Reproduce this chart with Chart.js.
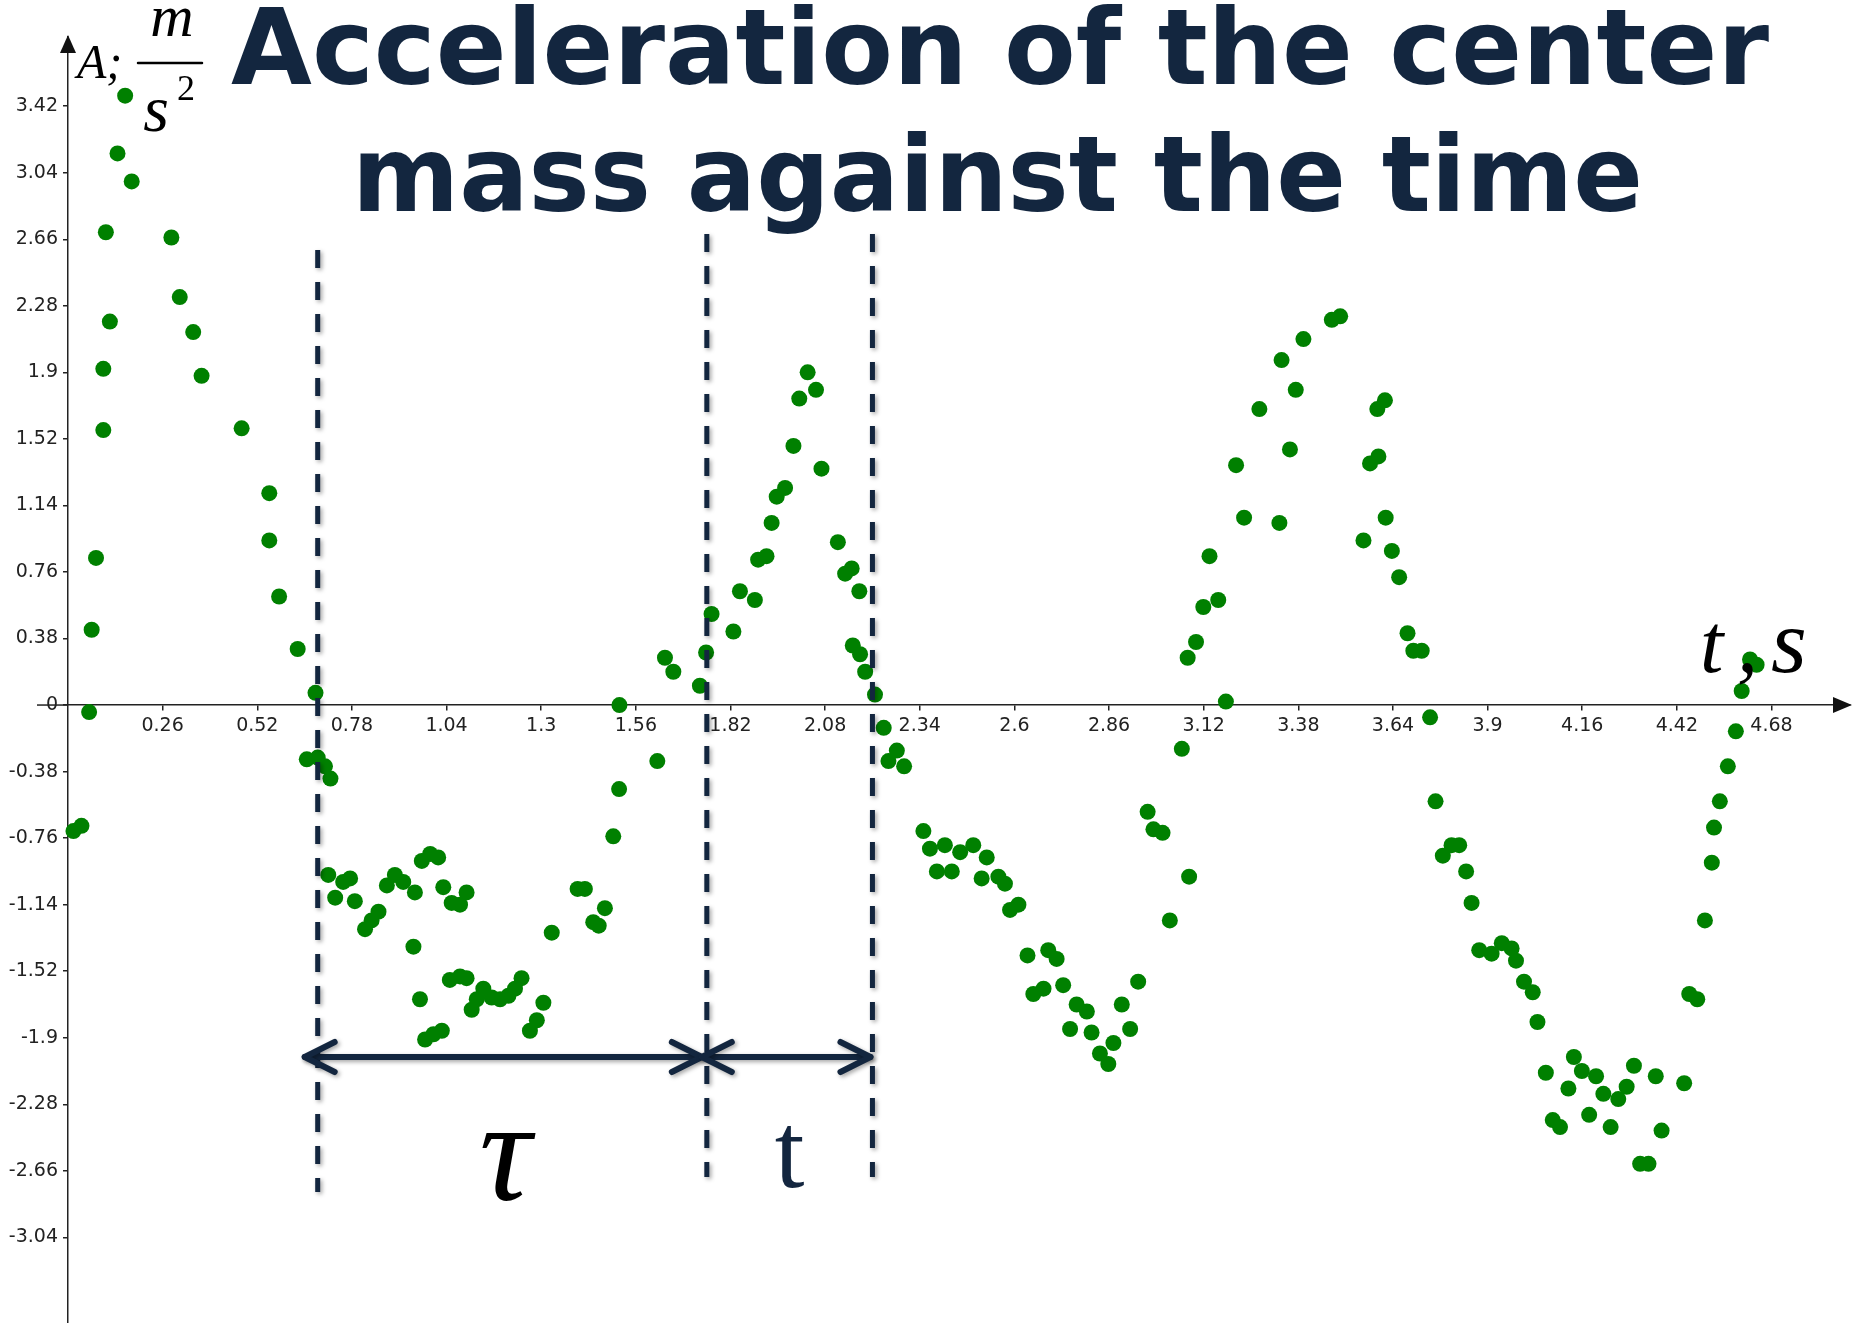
<!DOCTYPE html>
<html>
  <head>
    <meta charset="UTF-8" />
    <title>Acceleration of the center mass against the time</title>
    <script src="https://cdn.jsdelivr.net/npm/chart.js"></script>
    <style>
      body { margin: 0; padding: 0; background: #fff; }
      canvas { display: block; }
    </style>
  </head>
  <body>
    <canvas id="myChart" width="1859" height="1323"></canvas>
    <script>
      // time, s
      const timeS = [
        0.015, 0.037, 0.058, 0.065, 0.077, 0.097, 0.097, 0.104, 0.115, 0.136,
        0.157, 0.175, 0.284, 0.307, 0.344, 0.367, 0.477, 0.553, 0.553, 0.580,
        0.631, 0.656, 0.680, 0.686, 0.706, 0.715, 0.721, 0.734, 0.756, 0.775,
        0.788, 0.816, 0.834, 0.853, 0.876, 0.898, 0.921, 0.949, 0.953, 0.967,
        0.972, 0.981, 0.995, 1.004, 1.017, 1.027, 1.031, 1.049, 1.054, 1.077,
        1.077, 1.095, 1.095, 1.109, 1.123, 1.141, 1.164, 1.187, 1.210, 1.228,
        1.246, 1.269, 1.288, 1.306, 1.329, 1.400, 1.420, 1.443, 1.458, 1.475,
        1.498, 1.514, 1.515, 1.619, 1.640, 1.663, 1.736, 1.753, 1.768, 1.828,
        1.846, 1.887, 1.896, 1.919, 1.933, 1.947, 1.970, 1.993, 2.009, 2.032,
        2.055, 2.070, 2.115, 2.135, 2.153, 2.156, 2.174, 2.176, 2.190, 2.217,
        2.241, 2.254, 2.277, 2.297, 2.350, 2.368, 2.387, 2.409, 2.428, 2.451,
        2.487, 2.510, 2.524, 2.556, 2.574, 2.588, 2.611, 2.636, 2.652, 2.680,
        2.693, 2.716, 2.734, 2.753, 2.771, 2.799, 2.812, 2.835, 2.858, 2.872,
        2.895, 2.918, 2.940, 2.966, 2.982, 3.007, 3.027, 3.060, 3.076, 3.080,
        3.099, 3.119, 3.136, 3.160, 3.181, 3.209, 3.231, 3.273, 3.328, 3.334,
        3.357, 3.373, 3.394, 3.472, 3.495, 3.559, 3.577, 3.597, 3.600, 3.618,
        3.620, 3.637, 3.657, 3.680, 3.696, 3.719, 3.742, 3.757, 3.777, 3.801,
        3.822, 3.841, 3.856, 3.877, 3.911, 3.939, 3.966, 3.978, 4.000, 4.024,
        4.037, 4.060, 4.079, 4.099, 4.122, 4.137, 4.159, 4.179, 4.198, 4.218,
        4.238, 4.259, 4.282, 4.302, 4.319, 4.342, 4.362, 4.378, 4.440, 4.454,
        4.476, 4.497, 4.516, 4.522, 4.538, 4.560, 4.582, 4.598, 4.621, 4.639
      ];

      // acceleration, m/s^2
      const accel = [
        -0.72, -0.69, -0.04, 0.43, 0.84, 1.57, 1.92, 2.70, 2.19, 3.15,
        3.48, 2.99, 2.67, 2.33, 2.13, 1.88, 1.58, 1.21, 0.94, 0.62,
        0.32, -0.31, 0.07, -0.30, -0.35, -0.97, -0.42, -1.10, -1.01, -0.99,
        -1.12, -1.28, -1.23, -1.18, -1.03, -0.97, -1.01, -1.38, -1.07, -1.68,
        -0.89, -1.91, -0.85, -1.88, -0.87, -1.86, -1.04, -1.57, -1.13, -1.14,
        -1.55, -1.07, -1.56, -1.74, -1.68, -1.62, -1.67, -1.68, -1.66, -1.62,
        -1.56, -1.86, -1.80, -1.70, -1.30, -1.05, -1.05, -1.24, -1.26, -1.16,
        -0.75, -0.48, 0.00, -0.32, 0.27, 0.19, 0.11, 0.30, 0.52, 0.42,
        0.65, 0.60, 0.83, 0.85, 1.04, 1.19, 1.24, 1.48, 1.75, 1.90,
        1.80, 1.35, 0.93, 0.75, 0.78, 0.34, 0.65, 0.29, 0.19, 0.06,
        -0.13, -0.32, -0.26, -0.35, -0.72, -0.82, -0.95, -0.80, -0.95, -0.84,
        -0.80, -0.99, -0.87, -0.98, -1.02, -1.17, -1.14, -1.43, -1.65, -1.62,
        -1.40, -1.45, -1.60, -1.85, -1.71, -1.75, -1.87, -1.99, -2.05, -1.93,
        -1.71, -1.85, -1.58, -0.61, -0.71, -0.73, -1.23, -0.25, 0.27, -0.98,
        0.36, 0.56, 0.85, 0.60, 0.02, 1.37, 1.07, 1.69, 1.04, 1.97,
        1.46, 1.80, 2.09, 2.20, 2.22, 0.94, 1.38, 1.69, 1.42, 1.74,
        1.07, 0.88, 0.73, 0.41, 0.31, 0.31, -0.07, -0.55, -0.86, -0.80,
        -0.80, -0.95, -1.13, -1.40, -1.42, -1.36, -1.39, -1.46, -1.58, -1.64,
        -1.81, -2.10, -2.37, -2.41, -2.19, -2.01, -2.09, -2.34, -2.12, -2.22,
        -2.41, -2.25, -2.18, -2.06, -2.62, -2.62, -2.12, -2.43, -2.16, -1.65,
        -1.68, -1.23, -0.90, -0.70, -0.55, -0.35, -0.15, 0.08, 0.26, 0.23
      ];

      const xTicks = [0.26, 0.52, 0.78, 1.04, 1.3, 1.56, 1.82, 2.08, 2.34, 2.6, 2.86,
                      3.12, 3.38, 3.64, 3.9, 4.16, 4.42, 4.68];
      const yTicks = [3.42, 3.04, 2.66, 2.28, 1.9, 1.52, 1.14, 0.76, 0.38, 0,
                      -0.38, -0.76, -1.14, -1.52, -1.9, -2.28, -2.66, -3.04];

      // times of the dashed markers (start of tau, end of tau, end of t)
      const markerTimes = [0.686, 1.755, 2.21];

      const NAVY = '#13263f';
      const AXIS = '#222';

      const overlay = {
        id: 'overlay',
        afterDatasetsDraw(chart) {
          const ctx = chart.ctx;
          const xs = chart.scales.x;
          const ys = chart.scales.y;
          const x0 = ys.right;
          const yAxisPix = ys.getPixelForValue(0);
          const xRight = chart.chartArea.right;

          ctx.save();
          // axis arrow heads
          ctx.fillStyle = '#111';
          ctx.beginPath();
          ctx.moveTo(x0, 35);
          ctx.lineTo(x0 - 8, 53);
          ctx.lineTo(x0 + 8, 53);
          ctx.closePath();
          ctx.fill();
          ctx.beginPath();
          ctx.moveTo(xRight + 2, yAxisPix);
          ctx.lineTo(xRight - 17, yAxisPix - 8);
          ctx.lineTo(xRight - 17, yAxisPix + 8);
          ctx.closePath();
          ctx.fill();
          // stub of the x axis left of the y axis
          ctx.strokeStyle = AXIS;
          ctx.lineWidth = 1.5;
          ctx.beginPath();
          ctx.moveTo(37, yAxisPix);
          ctx.lineTo(x0, yAxisPix);
          ctx.stroke();

          // dashed markers
          const px = markerTimes.map(v => xs.getPixelForValue(v));
          const spans = [[250, 1192], [234, 1177], [234, 1177]];
          ctx.shadowColor = 'rgba(0,0,0,0.35)';
          ctx.shadowBlur = 4;
          ctx.shadowOffsetX = 2;
          ctx.shadowOffsetY = 2;
          ctx.strokeStyle = NAVY;
          ctx.lineWidth = 5;
          ctx.setLineDash([18, 14]);
          px.forEach((p, i) => {
            ctx.beginPath();
            ctx.moveTo(p, spans[i][0]);
            ctx.lineTo(p, spans[i][1]);
            ctx.stroke();
          });
          ctx.setLineDash([]);

          // double arrows
          const ay = 1057;
          const tips = [px[0] - 13, px[1] - 5, px[2] - 2];
          ctx.lineWidth = 6;
          ctx.lineCap = 'round';
          ctx.lineJoin = 'round';
          function head(x, dir) {
            ctx.beginPath();
            ctx.moveTo(x + dir * 30, ay - 15);
            ctx.lineTo(x, ay);
            ctx.lineTo(x + dir * 30, ay + 15);
            ctx.stroke();
          }
          ctx.beginPath();
          ctx.moveTo(tips[0], ay);
          ctx.lineTo(tips[2], ay);
          ctx.stroke();
          head(tips[0], 1);
          head(tips[1], -1);
          head(tips[1], 1);
          head(tips[2], -1);
          ctx.shadowColor = 'transparent';

          // tau and t labels
          ctx.textAlign = 'center';
          ctx.textBaseline = 'alphabetic';
          ctx.fillStyle = '#000';
          ctx.font = 'italic 145px "Liberation Serif"';
          ctx.fillText('\u03C4', (px[0] + px[1]) / 2 - 7, 1200);
          ctx.fillStyle = NAVY;
          ctx.font = '107px "Liberation Serif"';
          ctx.fillText('t', (px[1] + px[2]) / 2, 1187);

          // axis names
          ctx.fillStyle = '#000';
          ctx.textAlign = 'left';
          ctx.font = 'italic 84px "Liberation Serif"';
          ctx.fillText('t', 1700, 672);
          ctx.fillText(',', 1737, 672);
          ctx.font = 'italic 92px "Liberation Serif"';
          ctx.fillText('s', 1771, 672);

          ctx.font = 'italic 48px "Liberation Serif"';
          ctx.fillText('A;', 77, 78);
          ctx.textAlign = 'center';
          ctx.font = 'italic 60px "Liberation Serif"';
          ctx.fillText('m', 172, 36);
          ctx.font = 'italic 66px "Liberation Serif"';
          ctx.fillText('s', 156, 131);
          ctx.textAlign = 'left';
          ctx.font = '36px "Liberation Serif"';
          ctx.fillText('2', 177, 100);
          ctx.strokeStyle = '#000';
          ctx.lineWidth = 2.5;
          ctx.beginPath();
          ctx.moveTo(138, 63);
          ctx.lineTo(202, 63);
          ctx.stroke();

          // title, two lines stretched to the original widths
          ctx.fillStyle = NAVY;
          ctx.font = 'bold 105px "DejaVu Sans"';
          function fitText(text, left, right, base) {
            const w = ctx.measureText(text).width;
            ctx.save();
            ctx.translate(left, base);
            ctx.scale((right - left) / w, 1);
            ctx.fillText(text, 0, 0);
            ctx.restore();
          }
          fitText('Acceleration of the center', 231, 1769, 84);
          fitText('mass against the time', 352, 1643, 211);
          ctx.restore();
        }
      };

      const tickFont = { family: 'DejaVu Sans', size: 19 };

      const ctx = document.getElementById('myChart').getContext('2d');
      new Chart(ctx, {
        type: 'scatter',
        data: {
          datasets: [{
            label: 'A',
            data: timeS.map((t, i) => ({ x: t, y: accel[i] })),
            backgroundColor: '#008000',
            borderWidth: 0,
            pointRadius: 8,
            pointHoverRadius: 8,
            clip: false
          }]
        },
        options: {
          responsive: false,
          animation: false,
          layout: { autoPadding: false, padding: { left: 0, top: 37, right: 9, bottom: 0 } },
          plugins: {
            legend: { display: false },
            tooltip: { enabled: false },
            title: { display: false }
          },
          scales: {
            x: {
              type: 'linear',
              position: { y: 0 },
              min: 0,
              max: 4.8956,
              afterBuildTicks: s => { s.ticks = xTicks.map(v => ({ value: v })); },
              afterFit: s => { s.paddingLeft = 0; s.paddingRight = 0; },
              grid: { drawOnChartArea: false, tickLength: 5, color: AXIS, lineWidth: 1.5 },
              border: { color: AXIS, width: 1.5 },
              ticks: {
                autoSkip: false, maxRotation: 0, padding: 5,
                color: AXIS, font: tickFont,
                callback: v => String(v)
              }
            },
            y: {
              type: 'linear',
              position: 'left',
              min: -3.529,
              max: 3.815,
              afterBuildTicks: s => { s.ticks = yTicks.map(v => ({ value: v })); },
              afterFit: s => { s.width = 68; s.paddingTop = 0; s.paddingBottom = 0; },
              grid: { drawOnChartArea: false, tickLength: 5, color: AXIS, lineWidth: 1.5 },
              border: { color: AXIS, width: 1.5 },
              ticks: {
                autoSkip: false, padding: 5,
                color: AXIS, font: tickFont,
                callback: v => String(v)
              }
            }
          }
        },
        plugins: [overlay]
      });
    </script>
  </body>
</html>
